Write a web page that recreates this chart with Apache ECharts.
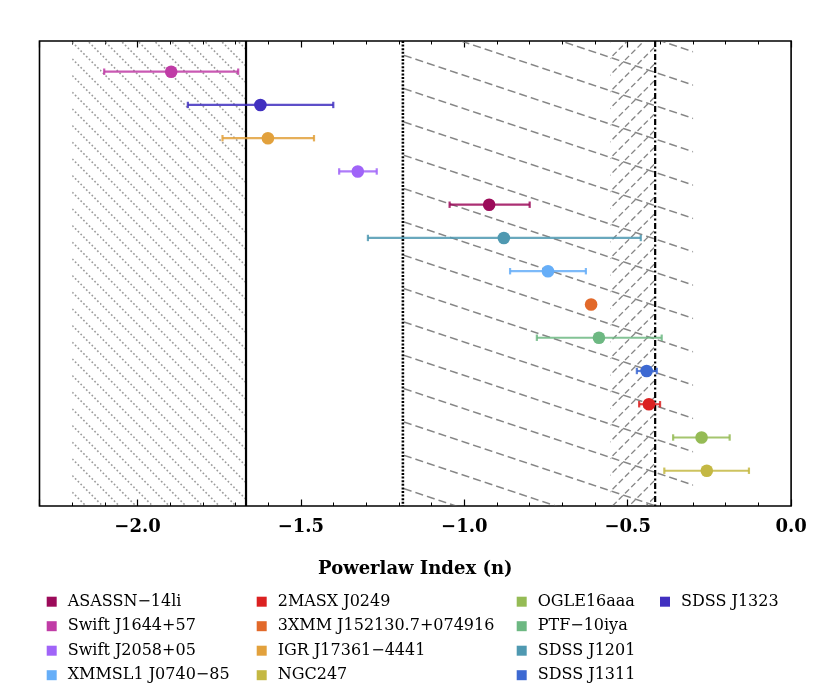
<!DOCTYPE html>
<html><head><meta charset="utf-8">
<script src="https://cdn.jsdelivr.net/npm/echarts@6/dist/echarts.min.js"></script>
<style>html,body{margin:0;padding:0;background:#fff}#c{width:830px;height:695px}</style>
</head><body><div id="c"></div><script>
// ---- data (top to bottom) ----
const sources = ['Swift J1644+57','SDSS J1323','IGR J17361−4441','Swift J2058+05','ASASSN−14li','SDSS J1201','XMMSL1 J0740−85','3XMM J152130.7+074916','PTF−10iya','SDSS J1311','2MASX J0249','OGLE16aaa','NGC247'];
const indexN  = [-1.897,-1.624,-1.601,-1.326,-0.924,-0.879,-0.744,-0.612,-0.588,-0.442,-0.435,-0.274,-0.258];
const errLow  = [-2.102,-1.846,-1.740,-1.383,-1.045,-1.295,-0.860,null,-0.778,-0.472,-0.465,-0.361,-0.388];
const errHigh = [-1.692,-1.401,-1.460,-1.268,-0.800,-0.460,-0.628,null,-0.396,-0.411,-0.401,-0.188,-0.129];
const colors  = ['#c03ca6','#4130c0','#e2a13c','#a064f8','#9c0b5a','#4f99b1','#66aef8','#e2692a','#6db882','#3d69d2','#db2121','#95bb55','#c4b843'];
const legendColumns = [
  ['ASASSN−14li','Swift J1644+57','Swift J2058+05','XMMSL1 J0740−85'],
  ['2MASX J0249','3XMM J152130.7+074916','IGR J17361−4441','NGC247'],
  ['OGLE16aaa','PTF−10iya','SDSS J1201','SDSS J1311'],
  ['SDSS J1323']
];
const regionStart = [-2.2, -1.188, -0.554];
const regionEnd   = [-1.668, -0.300, -0.416];
const refLines    = [-1.668, -1.188, -0.416];
const xMin = -2.3, xMax = 0.0;
const axisTitle = 'Powerlaw Index (n)';

// ---- hatch patterns ----
function makePattern(w, h, draw) {
  const R = 2;
  const cv = document.createElement('canvas');
  cv.width = w * R; cv.height = h * R;
  const ctx = cv.getContext('2d');
  ctx.scale(R, R);
  draw(ctx);
  return { image: cv, repeat: 'repeat', scaleX: 1 / R, scaleY: 1 / R };
}
function hatch(w, h, slope, offset, spacing, dash, color, lw) {
  return makePattern(w, h, ctx => {
    ctx.strokeStyle = color; ctx.lineWidth = lw; ctx.setLineDash(dash);
    for (let k = -12; k <= 12; k++) {
      const b = offset + k * spacing;
      ctx.beginPath();
      ctx.moveTo(0, b); ctx.lineTo(w, b + slope * w);
      ctx.stroke();
    }
  });
}
const dPer = Math.sqrt(2) * 50 / 18;
const pLeft = hatch(50, 50, 1, 3.33, 50 / 3, [1.7, dPer - 1.7], '#9a9a9a', 1.6);
const mPer = Math.sqrt(300 * 300 + 100 * 100) / 26;
const pMid = hatch(300, 100, 1 / 3, 20.67, 100 / 3, [8.1, mPer - 8.1], '#858585', 1.5);
const nPer = Math.sqrt(2) * 50 / 8;
const pNarrow = hatch(50, 50, -1, 1.73, 50 / 3, [5.8, nPer - 5.8], '#858585', 1.3);
const patterns = [pLeft, pMid, pNarrow];
const refDash = [null, [2, 1.6], [6, 2.5, 2, 2.5]];
const refWidth = [2.2, 2.6, 2.2];

const serif = 'DejaVu Serif';
function fmt(v) {
  if (Math.abs(v * 2 - Math.round(v * 2)) > 1e-6) return '';
  if (Math.abs(v) < 1e-9) return '0.0';
  return (v < 0 ? '−' : '') + Math.abs(v).toFixed(1);
}

const series = [];
series.push({
  type: 'custom', name: 'regions', silent: true, z: 1,
  data: regionStart.map((s, k) => [s, regionEnd[k], k]),
  encode: { x: [0, 1] },
  renderItem(params, api) {
    const cs = params.coordSys;
    const a = api.coord([api.value(0), 0]), b = api.coord([api.value(1), 0]);
    return { type: 'rect', shape: { x: a[0], y: cs.y + 0.8, width: b[0] - a[0], height: cs.height - 1.6 },
      style: { fill: patterns[api.value(2)] } };
  }
});
series.push({
  type: 'custom', name: 'refs', silent: true, z: 5,
  data: refLines.map((v, k) => [v, k]),
  encode: { x: 0 },
  renderItem(params, api) {
    const cs = params.coordSys;
    const k = api.value(1);
    const a = api.coord([api.value(0), 0]);
    return { type: 'line', shape: { x1: a[0], y1: cs.y, x2: a[0], y2: cs.y + cs.height },
      style: { stroke: '#000', lineWidth: refWidth[k], lineDash: refDash[k] } };
  }
});
sources.forEach((name, i) => {
  series.push({
    type: 'custom', name, z: 10,
    itemStyle: { color: colors[i] },
    data: [[indexN[i], i]],
    encode: { x: 0, y: 1 },
    renderItem(params, api) {
      const y = api.value(1);
      const p = api.coord([api.value(0), y]);
      const ch = [];
      if (errLow[i] !== null) {
        const a = api.coord([errLow[i], y]), b = api.coord([errHigh[i], y]);
        const st = { stroke: colors[i], lineWidth: 2.2, opacity: 0.85 };
        ch.push({ type: 'line', shape: { x1: a[0], y1: a[1], x2: b[0], y2: b[1] }, style: st });
        ch.push({ type: 'line', shape: { x1: a[0], y1: a[1] - 3.2, x2: a[0], y2: a[1] + 3.2 }, style: st });
        ch.push({ type: 'line', shape: { x1: b[0], y1: b[1] - 3.2, x2: b[0], y2: b[1] + 3.2 }, style: st });
      }
      ch.push({ type: 'circle', shape: { cx: p[0], cy: p[1], r: 6.3 }, style: { fill: colors[i] } });
      return { type: 'group', children: ch };
    }
  });
});

const minorAxis = (pos, labels) => ({
  type: 'value', position: pos, min: xMin, max: xMax, interval: 0.1,
  axisLine: { show: false, onZero: false }, splitLine: { show: false },
  axisTick: { show: true, inside: true, length: 3.5, lineStyle: { color: '#000', width: 1 } },
  axisLabel: labels ? { show: true, formatter: fmt, fontFamily: serif, fontWeight: 'bold', fontSize: 18, color: '#000', margin: 12 } : { show: false },
  name: labels ? axisTitle : '', nameLocation: 'middle', nameGap: 54,
  nameTextStyle: { fontFamily: serif, fontWeight: 'bold', fontSize: 18, color: '#000' }
});
const majorAxis = (pos) => ({
  type: 'value', position: pos, min: xMin, max: xMax, splitNumber: 5,
  axisLine: { show: false, onZero: false }, splitLine: { show: false },
  axisTick: { show: true, inside: true, length: 6.5, lineStyle: { color: '#000', width: 1.2 } },
  axisLabel: { show: false }
});

const chart = echarts.init(document.getElementById('c'));
chart.setOption({
  animation: false,
  backgroundColor: '#fff',
  grid: { left: 39.5, width: 751.6, top: 41, height: 465, show: true, borderColor: '#000', borderWidth: 1.6, backgroundColor: 'transparent' },
  xAxis: [minorAxis('bottom', true), majorAxis('bottom'), minorAxis('top', false), majorAxis('top')],
  yAxis: { type: 'value', min: -0.923, max: 13.06, inverse: true, show: false },
  legend: legendColumns.map((col, j) => ({
    data: col, orient: 'vertical', left: [46.7, 256.7, 516.7, 660][j], top: 593.7,
    itemWidth: 10, itemHeight: 10, itemGap: 8.5, icon: 'rect', padding: 0, selectedMode: false,
    textStyle: { fontFamily: serif, fontSize: 16, color: '#000', lineHeight: 16, padding: [0, 0, 0, 6] }
  })),
  series
});
</script></body></html>
